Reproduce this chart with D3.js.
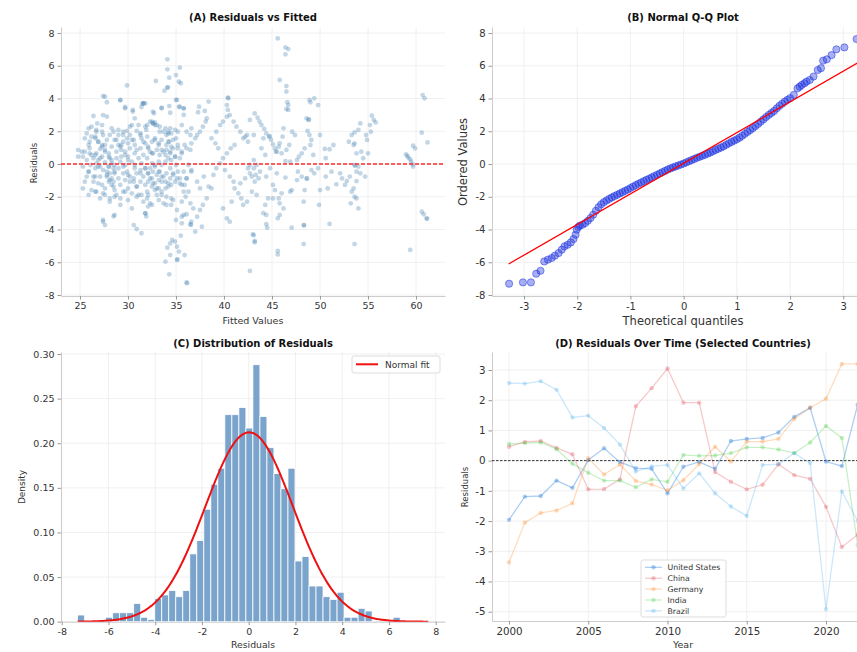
<!DOCTYPE html>
<html>
<head>
<meta charset="utf-8">
<script src="https://cdn.jsdelivr.net/npm/d3@7"></script>
<style>
  body { margin: 0; background: #fff; }
  svg { display: block; font-family: 'DejaVu Sans', sans-serif; }
  .grid line { stroke: #ececec; stroke-width: 0.8; }
  .axis path { stroke: #cccccc; stroke-width: 1; }
  .axis line { stroke: #999; }
  .axis text { fill: #333; }
  .title { font-weight: bold; font-size: 10px; fill: #111; text-anchor: middle; }
  .label { fill: #333; text-anchor: middle; }
</style>
</head>
<body>
<svg id="chart" width="857" height="652"></svg>
<script>
// ---- data ----

// (A) fitted value, residual
const scatterPoints = [
  [34.1,6.39],[34.1,5.78],[34.3,5.27],[34.1,4.68],[34.15,4.66],[33.8,4.48],[35.0,5.43],[35.4,5.88],[35.3,5.03],[35.5,4.93],
  [32.9,5.07],[29.9,4.80],[27.4,4.15],[27.8,3.77],[29.2,3.89],[31.4,3.48],[31.5,3.68],[31.6,3.72],[30.5,3.2],[29.7,3.48],
  [32.7,3.1],[33.5,3.44],[34.3,3.54],[34.4,3.13],[35.0,3.91],[35.3,3.48],[35.8,3.4],[35.8,3.0],
  [26.4,2.93],[27.4,2.99],[26.8,2.48],[25.9,2.18],[25.7,1.87],[26.2,1.67],[26.7,1.97],[27.3,2.38],[27.4,1.77],[27.8,1.47],
  [28.1,1.77],[28.5,1.97],[29.0,2.08],[29.5,1.77],[29.9,2.02],[30.4,2.38],[30.9,2.02],[31.3,1.77],[30.6,1.47],[30.0,1.26],
  [29.3,1.16],[28.8,1.47],[28.3,1.06],[27.6,1.16],[27.1,0.92],[26.7,0.65],[26.2,0.55],[25.5,0.75],[24.8,0.85],[25.3,0.45],
  [25.7,0.24],[26.1,-0.06],[26.6,-0.26],[26.9,0.24],[27.3,0.45],[27.6,0.10],[28.0,-0.16],[28.1,-0.57],[28.3,-0.88],[28.5,-1.08],
  [27.8,-0.47],[27.1,-0.77],[26.4,-1.08],[26.2,-1.59],[26.7,-1.69],[27.4,-1.79],[28.1,-2.10],[28.6,-1.59],[29.2,-1.28],[29.7,-0.98],
  [30.0,-0.67],[29.5,-0.57],[29.0,-0.26],[28.6,-0.06],[28.8,0.35],[29.3,0.45],[29.7,0.75],[30.2,0.96],[30.7,0.65],[31.1,0.35],
  [31.4,0.04],[31.8,-0.26],[32.1,-0.57],[32.5,-0.88],[32.8,-1.18],[33.2,-1.49],[33.5,-1.69],
  [30.4,-1.79],[30.9,-2.0],[31.4,-1.89],[32.0,-2.1],[32.3,-2.4],[32.1,-2.6],[31.8,-3.0],[31.9,-3.2],[27.4,-3.42],[27.6,-3.73],
  [28.5,-3.2],[30.6,-3.73],[30.9,-3.97],[31.4,-4.23],
  [34.1,-5.11],[34.4,-4.85],[34.6,-4.64],[34.9,-4.74],[35.1,-5.05],[35.1,-5.86],[35.15,-5.82],[35.3,-5.35],[34.4,-5.56],[33.9,-5.96],
  [34.3,-6.74],[36.1,-7.23],[36.15,-7.28],[35.5,-4.38],[35.9,-5.56],[35.0,-3.42],[35.6,-3.22],[36.1,-3.07],[36.5,-3.68],[36.6,-3.52],
  [36.55,-3.72],[36.8,-2.71],[37.2,-3.22],[37.5,-2.81],[37.8,-2.5],[38.2,-2.1],[37.7,-3.83],[37.0,-4.13],
  [36.1,0.96],[36.6,1.26],[37.0,1.57],[36.6,2.18],[37.2,1.77],[37.5,1.97],[37.8,2.28],[38.1,2.59],[37.4,3.5],[37.3,3.16],
  [38.0,3.24],[38.2,2.79],[38.4,3.81],
  [36.3,-0.06],[36.6,-0.47],[36.1,-0.88],[35.9,-1.28],[36.3,-1.69],[36.0,-2.0],[36.5,-2.4],[37.2,-1.08],[37.5,-1.49],[37.9,-0.77],
  [38.4,-1.38],[38.7,-1.49],[38.9,-0.67],[39.2,-0.26],[39.6,0.04],[39.9,0.35],[40.3,0.65],[40.7,0.96],[41.1,1.16],[39.4,0.96],
  [39.1,1.26],[38.7,1.57],[39.2,1.97],[39.6,2.38],[39.9,2.59],[40.3,2.89],[40.4,3.3],[40.4,4.05],[40.45,4.02],[40.3,3.6],
  [40.6,2.99],[41.0,2.59],[41.3,2.28],[41.7,1.97],[42.2,1.67],[42.5,1.36],
  [40.1,-0.37],[40.6,-0.77],[41.0,-1.08],[41.1,-1.49],[41.5,-1.79],[41.8,-2.1],[42.0,-2.5],[42.4,-2.3],[41.7,-1.18],[42.2,-0.88],
  [42.7,-0.57],[43.1,-0.26],[43.4,-0.06],[43.3,-0.67],[42.9,-1.69],[43.4,-1.89],[40.3,-3.32],[40.6,-3.52],[39.9,-2.71],[40.8,-2.30],
  [42.7,-6.53],[43.0,-4.3],[43.2,-4.7],
  [45.6,7.67],[46.4,7.12],[46.7,7.02],[46.4,6.70],[45.8,5.13],[46.5,4.76],[46.5,4.42],[46.6,3.77],[46.7,3.6],[46.5,3.36],
  [46.7,3.3],[48.9,3.91],[49.0,3.77],[49.4,4.01],[49.8,3.6],[48.8,2.69],[48.85,2.72],[48.6,2.79],[48.7,2.02],[48.9,1.77],
  [49.1,1.47],[49.0,1.16],[48.4,0.96],[48.1,0.65],[47.8,0.45],[47.6,0.24],[47.4,1.77],[47.1,1.97],[46.2,2.18],[46.1,1.67],
  [45.8,1.26],[45.7,1.06],[45.4,0.75],[46.0,0.65],[46.5,0.86],[46.8,1.16],[46.9,0.14],[46.4,0.18],
  [43.2,3.09],[43.5,2.83],[43.7,2.59],[43.9,2.38],[44.2,2.14],[44.4,1.87],[44.7,1.67],[44.75,1.7],[44.9,1.47],[45.1,1.2],
  [45.3,0.96],[45.5,0.75],
  [42.4,1.77],[42.0,1.57],[42.7,2.69],[43.1,1.77],[43.9,0.96],[44.1,1.57],[44.3,0.55],[43.1,0.24],[42.7,-0.06],[42.5,-0.26],
  [42.9,-0.77],[43.2,-1.08],[43.6,-0.88],[43.75,-0.47],[44.4,-0.77],[44.8,-0.26],[45.1,-1.28],[45.3,-1.59],[45.7,-2.1],[45.8,-2.4],
  [46.2,-2.71],[45.8,-3.11],[45.6,-3.32],[46.0,-1.79],[46.9,-1.69],[47.05,-1.59],[46.4,-0.83],[45.5,-0.57],[45.1,-2.1],[44.6,-2.1],
  [44.3,-2.5],[44.1,-3.0],[44.4,-3.11],[44.4,-3.68],[44.5,-3.89],[43.1,-4.34],[43.2,-4.78],[45.6,-5.31],[45.6,-5.52],[47.05,-3.89],
  [48.3,-3.73],[48.35,-3.75],[48.3,-4.89],[48.3,-2.3],[48.4,-1.59],[48.6,-0.88],[48.65,-0.9],[48.1,-0.77],[47.7,-0.47],[47.6,-0.98],
  [49.1,-0.37],[49.4,-0.57],[49.8,-0.26],[50.0,-1.59],[49.9,-2.5],[50.6,-0.77],[50.8,-1.49],[50.6,0.35],[51.0,-3.66],[51.2,-0.47],
  [51.7,-1.24],[52.1,-0.57],[52.3,-0.88],[52.6,-1.28],[52.8,-1.04],[53.1,-0.77],[53.3,-1.69],[53.5,-1.49],[53.2,-2.4],[53.6,-0.06],
  [53.65,-0.1],[53.8,-0.47],[54.0,-0.16],[54.2,-0.57],[53.8,-1.04],[53.6,-2.0],[53.8,-2.1],[54.0,-2.71],[53.6,-4.89],[53.0,1.36],
  [53.3,1.77],[53.6,1.93],[54.0,2.08],[54.2,2.48],[54.3,0.75],[53.8,0.65],[53.5,1.16],[53.6,1.26],[54.5,0.35],[54.7,-0.77],
  [54.9,1.47],[55.0,0.65],[55.2,2.38],[55.4,2.95],[55.6,2.69],[55.8,2.54],[55.3,1.97],[54.8,1.77],
  [58.96,0.59],[59.1,0.49],[59.2,0.39],[59.4,0.28],[59.5,0.14],[59.66,-0.02],[59.7,-0.16],[59.7,1.12],[59.9,0.96],[60.6,1.91],
  [60.7,4.21],[60.9,4.01],[61.2,1.32],[60.6,-2.91],[60.8,-3.07],[61.1,-3.32],[61.15,-3.35],[59.4,-5.25],
  [51.0,0.9],[51.4,1.16],[50.0,1.77],[50.5,0.92],[49.3,0.55],
  [32.5,2.59],[32.6,2.48],[32.8,2.54],[33.0,2.38],[33.3,2.28],[33.7,1.97],[34.0,1.77],[34.2,1.97],[34.4,2.18],[34.5,1.87],
  [34.7,1.47],[34.3,1.36],[34.0,1.16],[33.5,1.47],[33.2,1.26],[32.8,1.57],[32.5,1.36],[32.1,1.06],[32.3,0.75],[32.6,0.65],
  [33.0,0.86],[33.3,0.55],[33.7,0.75],[34.0,0.86],[34.4,0.65],[34.7,0.96],[34.9,0.45],[34.5,0.24],[34.2,0.35],[33.9,0.14],
  [33.5,-0.06],[33.2,0.14],[32.8,-0.06],[32.5,0.04],[32.3,-0.26],[32.6,-0.47],[33.0,-0.67],[33.3,-0.47],[33.7,-0.77],[34.0,-0.57],
  [34.4,-0.88],[34.7,-0.67],[34.9,-1.08],[34.5,-1.28],[34.2,-1.18],[33.9,-1.49],[33.5,-1.08],[33.2,-0.98],[32.8,-1.59],[32.5,-1.38],
  [33.0,-1.89],[34.0,-2.0],[34.7,-2.2],[34.5,-2.5],[33.7,-2.4],
  [35.0,-0.06],[35.2,-0.47],[35.4,-0.88],[35.6,-1.28],[35.8,-1.69],[35.4,0.35],[35.6,0.75],[35.2,1.16],[35.0,1.57],[35.2,1.97],
  [26.6,1.57],[26.9,1.36],[27.3,1.16],[27.6,0.86],[28.0,0.65],[28.1,0.35],[28.3,0.04],[28.5,-0.26],[28.6,-0.57],[27.8,-0.77],
  [28.0,-1.08],[28.5,-1.38],[27.1,-0.16],[26.7,0.04],[26.4,0.35],[26.0,0.96],[26.0,1.36],[25.9,-0.47],[25.7,-0.77],[25.5,-1.08],
  [25.3,-1.49],[26.6,-0.77],[26.9,-1.18],[27.3,-1.28],[27.6,-1.49],[28.8,-1.89],[29.2,-2.10],[29.7,-1.69],[30.0,-1.49],[30.2,-1.08],
  [30.6,-0.88],[30.9,-0.57],[31.3,-0.37],[30.7,-0.06],[30.4,0.14],[30.0,0.45],[29.7,-0.06],[29.2,0.14],[28.8,0.75],[29.2,1.06],
  [29.5,1.36],[29.9,1.57],[30.2,1.77],[31.6,1.36],[32.0,1.67],[31.8,2.28],[32.0,2.38],[31.3,0.96],[31.6,0.55],[32.0,0.35],
  [31.6,-0.77],[31.3,-1.08],[30.9,-1.38],[31.8,-1.28],[32.1,-1.08],[32.0,-1.69],
  [27.6,4.11],[29.2,3.91],[27.8,2.89],[29.7,3.4],[30.5,3.3],[31.6,3.7],[31.8,3.7],[32.6,3.2],[33.5,3.4],[35.1,3.91],
  [35.4,3.5],[35.8,3.4],[30.7,2.79],
  [26.2,2.28],[26.7,2.08],[27.3,1.97],[28.3,2.18],[29.0,1.77],[29.5,1.97],[30.2,2.28],[31.3,1.87],[32.3,2.59],[32.6,2.48],
  [32.8,2.38],[33.3,1.97],[33.9,2.18],[34.2,1.87],[34.9,2.08],[35.6,2.38],[36.1,1.97],[36.5,1.77],[31.1,2.38],[31.9,2.08],
  [25.5,1.57],[25.9,1.16],[26.0,0.65],[26.6,1.67],[26.9,1.36],[27.3,1.06],[27.6,0.75],[28.0,0.45],[28.3,0.24],[27.1,0.35],
  [26.6,0.55],[28.6,1.47],[29.0,1.16],[29.3,0.86],[29.7,0.55],[30.0,0.24],[30.4,1.47],[30.7,1.16],[30.9,0.86],[31.4,1.57],
  [31.8,1.26],[32.1,0.96],[32.5,0.65],[32.8,1.47],[33.2,1.16],[33.5,0.86],[33.9,0.55],[34.2,1.36],[34.5,1.06],[34.4,0.75],
  [34.9,0.45],[35.2,0.96],[35.6,0.65],[35.9,1.16],[36.5,0.86],[25.2,0.75],[24.8,0.45],
  [25.3,-0.16],[25.9,-0.47],[26.4,-0.77],[26.9,-0.16],[27.4,-0.37],[27.8,-0.67],[28.1,-0.98],[28.3,-1.28],[28.0,-0.16],[28.6,-0.47],
  [29.0,-0.88],[29.5,-0.16],[29.9,-0.47],[30.2,-0.77],[30.6,-1.08],[30.9,-1.38],[30.7,-0.26],[31.3,-0.57],[31.8,-0.26],[32.1,-0.57],
  [32.3,-0.88],[32.6,-1.18],[33.0,-1.49],[32.8,-0.16],[33.2,-0.47],[33.5,-0.77],[33.9,-1.08],[34.2,-1.38],[34.4,-0.26],[34.7,-0.57],
  [35.1,-0.88],[35.4,-1.18],[35.8,-0.47],[36.1,-0.88],[36.6,-0.37],
  [25.9,-1.89],[26.6,-1.69],[27.1,-2.1],[27.6,-1.89],[28.1,-2.3],[28.6,-2.0],[29.2,-2.5],[29.5,-1.69],[30.0,-2.2],[30.4,-2.71],
  [31.1,-1.89],[31.6,-2.3],[32.1,-1.89],[32.5,-2.5],[33.2,-2.2],[33.5,-1.89],[34.0,-2.5],[34.5,-2.1],[35.1,-2.81],[35.6,-2.3],
  [35.8,-3.11],[28.6,-3.11],[31.8,-3.01],[27.4,-3.52],[35.6,-3.62]
]
const fittedTicks = [25, 30, 35, 40, 45, 50, 55, 60]
const residualTicks = [-8, -6, -4, -2, 0, 2, 4, 6, 8]

// (B) theoretical quantile / ordered value pairs
const qqTheoretical = [
  -3.28,-3.02,-2.87,-2.77,-2.69,-2.62,-2.55,-2.48,-2.42,-2.35,-2.29,-2.24,-2.18,-2.12,-2.07,-2.03,-2.01,-1.98,
  -1.95,-1.90,-1.85,-1.80,-1.75,-1.70,-1.65,-1.60,-1.55,-1.50,-1.45,-1.40,-1.35,-1.30,-1.25,-1.20,-1.15,-1.10,-1.05,-1.00,
  -0.95,-0.90,-0.85,-0.80,-0.75,-0.70,-0.65,-0.60,-0.55,-0.50,-0.45,-0.40,-0.35,-0.30,-0.25,-0.20,-0.15,-0.10,-0.05,0.00,
  0.05,0.10,0.15,0.20,0.25,0.30,0.35,0.40,0.45,0.50,0.55,0.60,0.65,0.70,0.75,0.80,0.85,0.90,0.95,1.00,
  1.05,1.10,1.15,1.20,1.25,1.30,1.35,1.40,1.45,1.50,1.55,1.60,1.65,1.70,1.75,1.80,1.85,1.90,1.95,2.00,
  2.07,2.14,2.18,2.22,2.27,2.31,2.37,2.44,2.52,2.58,2.62,2.69,2.78,2.87,3.02,3.25
]
const qqOrdered = [
  -7.31,-7.23,-7.23,-6.70,-6.52,-5.95,-5.84,-5.74,-5.60,-5.44,-5.23,-5.03,-4.93,-4.79,-4.58,-4.32,-4.01,-3.85,
  -3.76,-3.71,-3.61,-3.47,-3.30,-3.10,-2.86,-2.64,-2.46,-2.33,-2.23,-2.13,-2.04,-1.96,-1.88,-1.80,-1.72,-1.64,-1.56,-1.47,
  -1.38,-1.29,-1.21,-1.13,-1.05,-0.97,-0.90,-0.82,-0.74,-0.66,-0.58,-0.50,-0.42,-0.34,-0.27,-0.21,-0.15,-0.09,-0.03,0.03,
  0.10,0.17,0.24,0.31,0.38,0.44,0.50,0.56,0.63,0.70,0.78,0.86,0.93,1.00,1.08,1.17,1.26,1.35,1.43,1.51,
  1.61,1.72,1.84,1.96,2.07,2.19,2.32,2.45,2.59,2.73,2.87,3.00,3.12,3.24,3.40,3.55,3.68,3.81,3.92,4.02,
  4.22,4.62,4.72,4.83,4.93,5.03,5.13,5.34,5.74,5.85,6.31,6.39,6.65,7.00,7.12,7.63
]
const qqLineIntercept = 0.05
const qqLineSlope = 1.872
const qqLineRange = [-3.29, 3.29]
const quantileTicks = [-3, -2, -1, 0, 1, 2, 3]

// (C) histogram of residuals (density), 50 bins
const histStart = -7.32
const histWidth = 0.30
const histDensity = [
  0.0075, 0, 0, 0, 0.005, 0.010, 0.010, 0.010, 0.0205, 0.005,
  0.0025, 0.026, 0.030, 0.035, 0.028, 0.035, 0.076, 0.091, 0.126, 0.154,
  0.172, 0.232, 0.232, 0.240, 0.217, 0.288, 0.230, 0.195, 0.166, 0.149,
  0.172, 0.068, 0.073, 0.040, 0.040, 0.028, 0.025, 0.033, 0.005, 0.005,
  0.015, 0.012, 0, 0, 0, 0.005, 0, 0, 0, 0
]
const normalMu = 0.02
const normalSigma = 1.88
const residTicksC = [-8, -6, -4, -2, 0, 2, 4, 6, 8]
const densityTicks = [0, 0.05, 0.10, 0.15, 0.20, 0.25, 0.30]

// (D) residuals over time
const years = [2000,2001,2002,2003,2004,2005,2006,2007,2008,2009,2010,2011,2012,2013,2014,2015,2016,2017,2018,2019,2020,2021,2022]
const unitedStates = [-1.96,-1.19,-1.17,-0.66,-0.90,0.02,0.41,-0.05,-0.25,-0.27,-1.08,-0.20,-0.04,-0.27,0.65,0.72,0.75,0.93,1.45,1.75,-0.03,-0.18,1.85]
const china = [0.46,0.62,0.65,0.42,0.21,-0.95,-0.94,-0.62,1.80,2.40,3.05,1.92,1.92,-0.38,-0.70,-0.95,-0.80,-0.12,-0.48,-0.60,-1.53,-2.86,-2.45]
const germany = [-3.37,-2.05,-1.73,-1.65,-1.41,0.08,-0.46,-0.13,-0.67,-0.79,-0.98,-0.65,-0.11,0.46,-0.03,0.63,0.63,0.72,1.38,1.75,2.05,3.20,3.20]
const india = [0.55,0.58,0.60,0.38,-0.10,-0.40,-0.66,-0.66,-0.88,-0.62,-0.70,0.19,0.16,0.17,0.25,0.44,0.44,0.37,0.25,0.60,1.15,0.75,-2.80]
const brazil = [2.57,2.55,2.63,2.35,1.43,1.49,1.08,0.53,-0.36,-0.19,-0.14,-0.92,-0.42,-1.08,-1.52,-1.83,-0.14,-0.12,0.25,-0.08,-4.92,-1.02,-2.00]
const countryNames = ['United States', 'China', 'Germany', 'India', 'Brazil']
const countryColors = ['rgba(31,119,220,0.36)', 'rgba(225,40,50,0.25)', 'rgba(255,127,14,0.27)', 'rgba(50,200,50,0.27)', 'rgba(23,150,230,0.22)']
const yearTicks = [2000, 2005, 2010, 2015, 2020]
const residTicksD = [-5, -4, -3, -2, -1, 0, 1, 2, 3]

// ---- drawing ----
const svg = d3.select('#chart')
svg.append('rect').attr('width', 857).attr('height', 652).attr('fill', '#fff')

const hyphen = (f) => (v) => f(v).replace('\u2212', '-')

// scale anchored on two tick positions, stretched to the frame edges
function frameScale(ticks, px, extent) {
  const s = d3.scaleLinear().domain(ticks).range(px)
  return d3.scaleLinear().domain(extent.map(s.invert)).range(extent)
}

function drawFrame(p) {
  const g = svg.append('g')
  const [x0, x1] = p.x.range()
  const [y0, y1] = p.y.range()  // y0 bottom, y1 top

  const grid = g.append('g').attr('class', 'grid')
  grid.selectAll('.gx').data(p.xTicks).join('line')
    .attr('x1', (d) => p.x(d)).attr('x2', (d) => p.x(d))
    .attr('y1', y1).attr('y2', y0)
  grid.selectAll('.gy').data(p.yTicks).join('line')
    .attr('x1', x0).attr('x2', x1)
    .attr('y1', (d) => p.y(d)).attr('y2', (d) => p.y(d))

  g.append('g')
    .attr('class', 'axis')
    .attr('transform', `translate(0, ${y0})`)
    .call(d3.axisBottom(p.x).tickValues(p.xTicks).tickFormat(p.xFormat).tickSize(3.5).tickSizeOuter(0).tickPadding(3))
    .attr('font-family', null)
    .attr('font-size', p.xFont)

  g.append('g')
    .attr('class', 'axis')
    .attr('transform', `translate(${x0}, 0)`)
    .call(d3.axisLeft(p.y).tickValues(p.yTicks).tickFormat(p.yFormat).tickSize(3.5).tickSizeOuter(0).tickPadding(3))
    .attr('font-family', null)
    .attr('font-size', p.yFont)

  svg.append('text').attr('class', 'title')
    .attr('x', p.titleX).attr('y', p.titleY).text(p.title)

  svg.append('text').attr('class', 'label')
    .attr('x', p.xLabelX).attr('y', p.xLabelY)
    .attr('font-size', p.xLabelFont).text(p.xLabel)

  svg.append('text').attr('class', 'label')
    .attr('transform', `translate(${p.yLabelX}, ${p.yLabelY}) rotate(-90)`)
    .attr('font-size', p.yLabelFont).text(p.yLabel)

  const id = 'clip-' + p.id
  svg.append('clipPath').attr('id', id)
    .append('rect').attr('x', x0).attr('y', y1).attr('width', x1 - x0).attr('height', y0 - y1)
  return svg.append('g').attr('clip-path', `url(#${id})`)
}

const intFmt = hyphen(d3.format('d'))

// (A) Residuals vs Fitted
const xA = frameScale([25, 60], [80, 416], [61, 445])
const yA = frameScale([-8, 8], [295, 33], [296, 27])
const gA = drawFrame({
  id: 'a', x: xA, y: yA, xTicks: fittedTicks, yTicks: residualTicks,
  xFormat: intFmt, yFormat: intFmt, xFont: 9.5, yFont: 9.5,
  title: '(A) Residuals vs Fitted', titleX: 253, titleY: 21,
  xLabel: 'Fitted Values', xLabelX: 253, xLabelY: 323.5, xLabelFont: 9.5,
  yLabel: 'Residuals', yLabelX: 37, yLabelY: 163, yLabelFont: 8.5,
})
gA.append('g').selectAll('circle')
  .data(scatterPoints)
  .join('circle')
  .attr('cx', (d) => xA(d[0]))
  .attr('cy', (d) => yA(d[1]))
  .attr('r', 2.4)
  .attr('fill', '#4682b4')
  .attr('fill-opacity', 0.33)
gA.append('line')
  .attr('x1', 61).attr('x2', 445)
  .attr('y1', yA(0)).attr('y2', yA(0))
  .attr('stroke', '#ff2a2a').attr('stroke-width', 1.3)
  .attr('stroke-dasharray', '4,2')

// (B) Normal Q-Q Plot
const xB = frameScale([-3, 3], [524, 843.3], [492, 880])
const yB = frameScale([-8, 8], [295, 33], [296, 27])
const gB = drawFrame({
  id: 'b', x: xB, y: yB, xTicks: quantileTicks, yTicks: residualTicks,
  xFormat: intFmt, yFormat: intFmt, xFont: 10, yFont: 10,
  title: '(B) Normal Q-Q Plot', titleX: 683, titleY: 21,
  xLabel: 'Theoretical quantiles', xLabelX: 683, xLabelY: 324.5, xLabelFont: 11.5,
  yLabel: 'Ordered Values', yLabelX: 467, yLabelY: 162, yLabelFont: 11.5,
})
gB.append('g').selectAll('circle')
  .data(qqTheoretical.map((q, i) => [q, qqOrdered[i]]))
  .join('circle')
  .attr('cx', (d) => xB(d[0]))
  .attr('cy', (d) => yB(d[1]))
  .attr('r', 3.6)
  .attr('fill', '#1a2fe0').attr('fill-opacity', 0.38)
  .attr('stroke', '#1a2fe0').attr('stroke-opacity', 0.5).attr('stroke-width', 1)
gB.append('line')
  .attr('x1', xB(qqLineRange[0])).attr('y1', yB(qqLineIntercept + qqLineSlope * qqLineRange[0]))
  .attr('x2', xB(qqLineRange[1])).attr('y2', yB(qqLineIntercept + qqLineSlope * qqLineRange[1]))
  .attr('stroke', '#ff0000').attr('stroke-width', 1.3)

// (C) Distribution of Residuals
const xC = frameScale([-8, 8], [61.7, 435.7], [61, 445])
const yC = frameScale([0, 0.3], [621.7, 354], [621.7, 352])
const gC = drawFrame({
  id: 'c', x: xC, y: yC, xTicks: residTicksC, yTicks: densityTicks,
  xFormat: intFmt, yFormat: d3.format('.2f'), xFont: 9.5, yFont: 9.5,
  title: '(C) Distribution of Residuals', titleX: 253, titleY: 347,
  xLabel: 'Residuals', xLabelX: 253, xLabelY: 648, xLabelFont: 9.3,
  yLabel: 'Density', yLabelX: 25, yLabelY: 487, yLabelFont: 9,
})
gC.append('g').selectAll('rect')
  .data(histDensity)
  .join('rect')
  .attr('x', (d, i) => xC(histStart + i * histWidth))
  .attr('width', xC(histStart + histWidth) - xC(histStart))
  .attr('y', (d) => yC(d))
  .attr('height', (d) => yC(0) - yC(d))
  .attr('fill', '#7ba4cc')
  .attr('stroke', '#fff').attr('stroke-width', 0.8)

const curveX = d3.range(0, 301).map((i) => histStart + i * (histWidth * histDensity.length) / 300)
const pdf = (v) => Math.exp(-0.5 * ((v - normalMu) / normalSigma) ** 2) / (normalSigma * Math.sqrt(2 * Math.PI))
gC.append('path')
  .datum(curveX)
  .attr('d', d3.line().x((d) => xC(d)).y((d) => yC(pdf(d))))
  .attr('fill', 'none').attr('stroke', '#ee1111').attr('stroke-width', 2)

const legC = svg.append('g')
legC.append('rect').attr('x', 352).attr('y', 356).attr('width', 88).attr('height', 17)
  .attr('rx', 2).attr('fill', '#fff').attr('fill-opacity', 0.85).attr('stroke', '#dddddd')
legC.append('line').attr('x1', 356).attr('x2', 378).attr('y1', 364.3).attr('y2', 364.3)
  .attr('stroke', '#ee1111').attr('stroke-width', 2)
legC.append('text').attr('x', 385).attr('y', 367.6).attr('font-size', 9).attr('fill', '#333').text('Normal fit')

// (D) Residuals Over Time
const xD = frameScale([2000, 2020], [509, 826], [492, 880])
const yD = frameScale([-5, 3], [611.7, 370], [621, 352])
const gD = drawFrame({
  id: 'd', x: xD, y: yD, xTicks: yearTicks, yTicks: residTicksD,
  xFormat: intFmt, yFormat: intFmt, xFont: 10.3, yFont: 10.3,
  title: '(D) Residuals Over Time (Selected Countries)', titleX: 683, titleY: 347,
  xLabel: 'Year', xLabelX: 683, xLabelY: 648, xLabelFont: 9.5,
  yLabel: 'Residuals', yLabelX: 468, yLabelY: 487, yLabelFont: 8.5,
})
gD.append('line')
  .attr('x1', 492).attr('x2', 880)
  .attr('y1', yD(0)).attr('y2', yD(0))
  .attr('stroke', '#333').attr('stroke-width', 1)
  .attr('stroke-dasharray', '2.5,1.5')

const series = [unitedStates, china, germany, india, brazil]
const lineD = d3.line().x((d, i) => xD(years[i])).y((d) => yD(d))
series.forEach((vals, k) => {
  const s = gD.append('g')
  s.append('path').datum(vals).attr('d', lineD)
    .attr('fill', 'none').attr('stroke', countryColors[k]).attr('stroke-width', 1.3)
  s.selectAll('circle').data(vals).join('circle')
    .attr('cx', (d, i) => xD(years[i])).attr('cy', (d) => yD(d))
    .attr('r', 2.2).attr('fill', countryColors[k])
})

const legD = svg.append('g')
legD.append('rect').attr('x', 641).attr('y', 560).attr('width', 85).attr('height', 57)
  .attr('rx', 2).attr('fill', '#fff').attr('fill-opacity', 0.85).attr('stroke', '#dddddd')
countryNames.forEach((name, k) => {
  const cy = 567.3 + k * 10.9
  legD.append('line').attr('x1', 645).attr('x2', 662).attr('y1', cy).attr('y2', cy)
    .attr('stroke', countryColors[k]).attr('stroke-width', 1.3)
  legD.append('circle').attr('cx', 653.5).attr('cy', cy).attr('r', 2.2).attr('fill', countryColors[k])
  legD.append('text').attr('x', 667.5).attr('y', cy + 2.8).attr('font-size', 7.8).attr('fill', '#333').text(name)
})
</script>
</body>
</html>
